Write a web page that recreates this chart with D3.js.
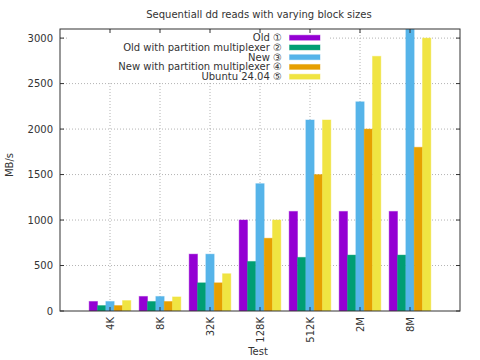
<!DOCTYPE html>
<html><head><meta charset="utf-8">
<script src="https://cdn.jsdelivr.net/npm/d3@7"></script>
<style>body{margin:0;background:#fff}svg{display:block}text{font-family:"DejaVu Sans",sans-serif;fill:#333}</style>
</head><body>
<svg id="c" width="480" height="360"></svg>
<script>
const categories = ["4K","8K","32K","128K","512K","2M","8M"];
const seriesNames = ["Old \u2460","Old with partition multiplexer \u2461","New \u2462","New with partition multiplexer \u2463","Ubuntu 24.04 \u2464"];
const colors = ["#9400d3","#009e73","#56b4e9","#e69f00","#f0e442"];
const oldVals = [105,160,625,1000,1095,1095,1095];
const oldMuxVals = [60,105,310,545,590,615,615];
const newVals = [105,160,625,1400,2100,2300,3200];
const newMuxVals = [60,105,310,800,1500,2000,1800];
const ubuntuVals = [115,155,410,1000,2100,2800,3000];
const yTicks = [0,500,1000,1500,2000,2500,3000];
const series = [oldVals, oldMuxVals, newVals, newMuxVals, ubuntuVals];

const svg = d3.select("#c");
const L=60,R=460,T=29,B=311;
const x = d3.scaleLinear().domain([-1,7]).range([L,R]);
const y = d3.scaleLinear().domain([0,3100]).range([B,T]);
const grid = "#a0a0a0";

// gridlines
svg.append("g").selectAll("line").data(yTicks.filter(d=>d>0)).join("line")
  .attr("x1",L).attr("x2",R).attr("y1",d=>y(d)).attr("y2",d=>y(d))
  .attr("stroke",grid).attr("stroke-width",0.8).attr("stroke-dasharray","1,2");
svg.append("g").selectAll("line").data(categories).join("line")
  .attr("x1",(d,i)=>x(i)).attr("x2",(d,i)=>x(i)).attr("y1",T).attr("y2",B)
  .attr("stroke",grid).attr("stroke-width",0.8).attr("stroke-dasharray","1,2");

// bars
const bw = x(1/6)-x(0);
const clip = svg.append("clipPath").attr("id","pc").append("rect").attr("x",L).attr("y",T).attr("width",R-L).attr("height",B-T);
const bars = svg.append("g").attr("clip-path","url(#pc)");
series.forEach((vals,s)=>{
  bars.append("g").selectAll("rect").data(vals).join("rect")
    .attr("x",(d,i)=>x(i)+(s-2.5)*bw)
    .attr("width",bw)
    .attr("y",d=>y(d)).attr("height",d=>B-y(d))
    .attr("fill",colors[s]).attr("stroke",colors[s]).attr("stroke-opacity",0.4).attr("stroke-width",1);
});

// legend background
svg.append("rect").attr("x",68).attr("y",30).attr("width",260).attr("height",51).attr("fill","#fff");
const lg = svg.append("g");
seriesNames.forEach((n,s)=>{
  const cy = 37.7 + s*9.75;
  lg.append("text").attr("x",282).attr("y",cy).attr("dy","0.35em").attr("text-anchor","end")
    .attr("font-size",10).text(n);
  lg.append("rect").attr("x",289.5).attr("y",cy-2.5).attr("width",30.5).attr("height",5)
    .attr("fill",colors[s]).attr("stroke",colors[s]).attr("stroke-opacity",0.4);
});

// border
svg.append("rect").attr("x",L).attr("y",T).attr("width",R-L).attr("height",B-T)
  .attr("fill","none").attr("stroke","#333").attr("stroke-width",1);

// ticks
const tk = svg.append("g").attr("stroke","#333").attr("stroke-width",1);
yTicks.forEach(v=>{
  tk.append("line").attr("x1",L).attr("x2",L+4).attr("y1",y(v)).attr("y2",y(v));
  tk.append("line").attr("x1",R).attr("x2",R-4).attr("y1",y(v)).attr("y2",y(v));
});
categories.forEach((c,i)=>{
  tk.append("line").attr("x1",x(i)).attr("x2",x(i)).attr("y1",B).attr("y2",B-4);
  tk.append("line").attr("x1",x(i)).attr("x2",x(i)).attr("y1",T).attr("y2",T+4);
});

// tick labels
svg.append("g").selectAll("text").data(yTicks).join("text")
  .attr("x",53).attr("y",d=>y(d)).attr("dy","0.35em").attr("text-anchor","end")
  .attr("font-size",10).text(d=>d);
svg.append("g").selectAll("text").data(categories).join("text")
  .attr("transform",(d,i)=>`translate(${x(i)+3.5},317) rotate(-90)`)
  .attr("text-anchor","end").attr("font-size",10).text(d=>d);

// titles
svg.append("text").attr("x",259).attr("y",18).attr("text-anchor","middle").attr("font-size",10)
  .text("Sequentiall dd reads with varying block sizes");
svg.append("text").attr("transform","translate(13,165) rotate(-90)").attr("text-anchor","middle")
  .attr("font-size",10).text("MB/s");
svg.append("text").attr("x",258).attr("y",355).attr("text-anchor","middle").attr("font-size",10).text("Test");
</script>
</body></html>
